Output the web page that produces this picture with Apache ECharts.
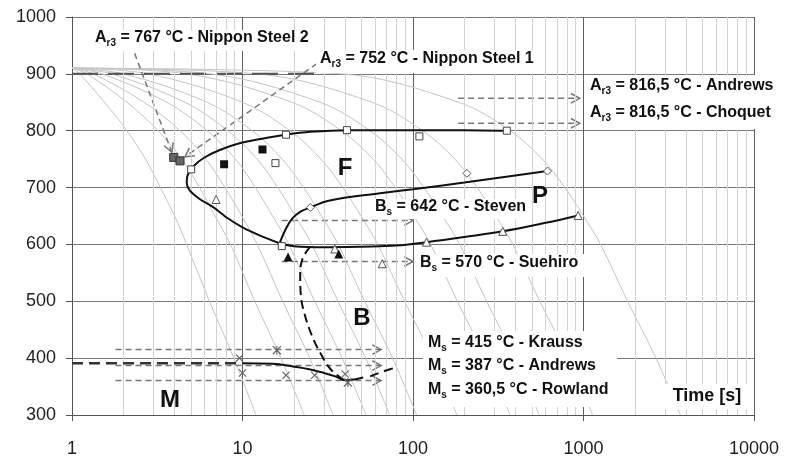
<!DOCTYPE html>
<html>
<head>
<meta charset="utf-8">
<script src="https://cdn.jsdelivr.net/npm/echarts@6/dist/echarts.min.js"></script>
<style>
  html, body { margin: 0; padding: 0; background: #fff; }
  #chart { width: 789px; height: 458px; }
</style>
</head>
<body>
<div id="chart"></div>
<script>
// cooling curves [time s, temp °C]
const cool12 = [[1,910],[1.11,900],[1.55,850],[2.1,800],[2.7,750],[3.3,700],[4.0,650],[4.7,600],[6.4,500],[8.9,400],[12,300]];
const cool23 = [[1,910],[1.22,900],[2.1,850],[3.2,800],[4.4,750],[5.6,700],[6.9,650],[8.5,600],[11.8,500],[16.8,400],[23,300]];
const cool34 = [[1,910],[1.33,900],[2.65,850],[4.3,800],[6.1,750],[7.9,700],[9.9,650],[12.2,600],[17.2,500],[24.8,400],[34,300]];
const cool53 = [[1,910],[1.5,900],[3.6,850],[6.2,800],[9.1,750],[11.9,700],[15,650],[18.7,600],[26.5,500],[38.4,400],[53,300]];
const cool73 = [[1,910],[1.7,900],[4.6,850],[8.2,800],[12.2,750],[16.1,700],[20.4,650],[25.5,600],[36.3,500],[52.8,400],[73,300]];
const cool105 = [[1,910],[2.0,900],[6.2,850],[11.4,800],[17.1,750],[22.8,700],[29.1,650],[36.4,600],[52,500],[75.9,400],[105,300]];
const cool181 = [[1,910],[2.8,900],[10,850],[19,800],[28.9,750],[38.8,700],[49.6,650],[62.2,600],[89.2,500],[130.6,400],[181,300]];
const cool371 = [[1,910],[4.7,900],[19.5,850],[38,800],[58.4,750],[78.7,700],[101,650],[127,600],[182,500],[267,400],[371,300]];
const cool550 = [[1,910],[6.5,900],[28.5,850],[56,800],[86,750],[116,700],[149,650],[188,600],[270,500],[396,400],[550,300]];
const cool1130 = [[1,910],[12.3,900],[57.5,850],[114,800],[176,750],[238,700],[306,650],[385,600],[554,500],[814,400],[1130,300]];
const cool3700 = [[1,910],[38,900],[186,850],[371,800],[574,750],[778,700],[1000,650],[1259,600],[1813,500],[2664,400],[3700,300]];
const coolingCurves = [cool12, cool23, cool34, cool53, cool73, cool105, cool181, cool371, cool550, cool1130, cool3700];

// transformation lines
const ferriteStart = [[360,800],[200,801],[100,801],[41,801],[25,798],[18,793],[13,786],[9.6,778],[7.35,766],[5.92,752],[5.18,738],[4.77,722],[4.71,708],[4.9,695],[5.6,680],[6.7,666],[8.2,646],[10,630],[12.6,616],[16.5,602]];
const pearliteStart = [[16.5,602],[17.8,625],[19.5,645],[22,658],[25,665],[32,677],[64,690],[100,697],[200,709],[311,717],[615,729]];
const pearliteEnd = [[16.5,602],[20,597],[30,595],[50,596],[80,598],[120,604],[200,613],[336,623],[600,638],[930,651]];
const bainiteEnd = [[25,596],[22.5,575],[21.8,545],[22,510],[23,480],[25.5,440],[28.5,410],[33,380],[40,360]];
const msSolid = [[10,391],[15,390],[20,385],[25,380],[30,374],[35,368],[40.5,361],[46,363],[51,366]];
const msLeft = [[1,391],[10,391]];
const msRight = [[56,368],[66,376],[82,385]];
const austenLine = [[1,900],[30,900]];

// markers
const openSquares = [[5,732],[15.6,743],[18,793],[41,801],[109,790],[355,800],[17,597]];
const filledSquares = [[7.8,741],[13.1,767]];
const nipponSquares = [[3.95,753],[4.3,747]];
const openTriangles = [[7,679],[66,566],[120,604],[336,623],[930,651],[34.8,592]];
const filledTriangles = [[18.5,578],[36.7,583]];
const openDiamonds = [[25,665],[207,725],[615,729]];
const crossMarks = [[9.6,400],[10,374],[18,370],[26.5,370],[40,372]];
const starMarks = [[15.9,414],[41.5,357]];

// reference arrows [t1, T1, t2, T2]
const refArrows = [
  [1.8,415,65,415],
  [1.8,387,65,387],
  [1.8,360.5,65,360.5],
  [17,642,100,642],
  [17,570,100,570],
  [184,857,950,857],
  [184,813,950,813],
  [2.33,936,3.85,762],
  [27.3,918,4.6,754]
];

const minorTimes = [];
[1, 10, 100, 1000].forEach(d => { for (let k = 2; k <= 9; k++) minorTimes.push(k * d); });

const FONT = "'Liberation Sans', Arial, sans-serif";
const chart = echarts.init(document.getElementById('chart'));

const crossPath = 'path://M1,0L5,4L9,0L10,1L6,5L10,9L9,10L5,6L1,10L0,9L4,5L0,1Z';
const starPath = 'path://M1,0L5,4L9,0L10,1L6,5L10,9L9,10L5,6L1,10L0,9L4,5L0,1ZM4.4,0L5.6,0L5.6,10L4.4,10Z';

function markerSeries(data, symbol, size, fill, stroke) {
  return {
    type: 'scatter', data: data, symbol: symbol, symbolSize: size, z: 6, silent: true,
    itemStyle: { color: fill, borderColor: stroke, borderWidth: stroke ? 1 : 0, opacity: 1 }
  };
}

function lineSeries(data, color, width, dash, smooth, z) {
  return {
    type: 'line', data: data, showSymbol: false, symbol: 'none', smooth: smooth, z: z, silent: true,
    lineStyle: { color: color, width: width, type: dash || 'solid' }
  };
}

const series = [];
series.push({
  type: 'line', data: [], silent: true, z: 1,
  markLine: {
    silent: true, symbol: 'none', label: { show: false },
    lineStyle: { color: '#d2d2d2', width: 1, type: 'solid' },
    data: minorTimes.map(t => ({ xAxis: t }))
  }
});
coolingCurves.forEach(c => series.push(lineSeries(c, '#c4c4c4', 1, null, 0.35, 2)));
series.push(lineSeries(austenLine, '#555', 2, [26, 10], false, 3));
series.push({
  type: 'custom', data: refArrows, z: 4, silent: true,
  encode: { x: [0, 2], y: [1, 3] },
  renderItem: function (params, api) {
    const p1 = api.coord([api.value(0), api.value(1)]);
    const p2 = api.coord([api.value(2), api.value(3)]);
    const a = Math.atan2(p2[1] - p1[1], p2[0] - p1[0]);
    const L = 10, s = 0.5;
    const h1 = [p2[0] - L * Math.cos(a - s), p2[1] - L * Math.sin(a - s)];
    const h2 = [p2[0] - L * Math.cos(a + s), p2[1] - L * Math.sin(a + s)];
    return {
      type: 'group',
      children: [
        { type: 'line', shape: { x1: p1[0], y1: p1[1], x2: p2[0], y2: p2[1] },
          style: { stroke: '#777', lineWidth: 1.5, lineDash: [6, 4] } },
        { type: 'polyline', shape: { points: [h1, p2, h2] },
          style: { stroke: '#777', lineWidth: 1.5, fill: null } }
      ]
    };
  }
});
series.push(lineSeries(ferriteStart, '#111', 2, null, 0.3, 5));
series.push(lineSeries(pearliteStart, '#111', 2, null, 0.4, 5));
series.push(lineSeries(pearliteEnd, '#111', 2, null, 0.4, 5));
series.push(lineSeries(bainiteEnd, '#111', 2, [9, 5], 0.4, 5));
series.push(lineSeries(msSolid, '#111', 2, null, 0.4, 5));
series.push(lineSeries(msLeft, '#333', 2.5, [11, 6], false, 5));
series.push(lineSeries(msRight, '#111', 2, [9, 6], 0.3, 5));

series.push(markerSeries(openSquares, 'rect', 7, '#fff', '#444'));
series.push(markerSeries(filledSquares, 'rect', 8, '#111', null));
series.push(markerSeries(nipponSquares, 'rect', 8, '#666', '#333'));
series.push(markerSeries(openTriangles, 'triangle', 8, '#fff', '#555'));
series.push(markerSeries(filledTriangles, 'triangle', 9, '#111', null));
series.push(markerSeries(openDiamonds, 'diamond', 8, '#fff', '#555'));
series.push(markerSeries(crossMarks, crossPath, 8, '#666', null));
series.push(markerSeries(starMarks, starPath, 9, '#666', null));

const rich = {
  a: { fontSize: 16, fontWeight: 'bold', fontFamily: FONT, fill: '#111', lineHeight: 20 },
  s: { fontSize: 10, fontWeight: 'bold', fontFamily: FONT, fill: '#111', lineHeight: 20, verticalAlign: 'bottom' }
};
function label(x, y, head, sub, rest) {
  return {
    type: 'text', left: x, top: y - 10, z: 101, silent: true,
    style: { text: '{a|' + head + '}{s|' + sub + '}{a|' + rest + '}', rich: rich }
  };
}
function box(x1, y1, x2, y2) {
  return { type: 'rect', shape: { x: x1, y: y1, width: x2 - x1, height: y2 - y1 }, z: 100, silent: true,
    style: { fill: '#fff' } };
}
function letter(x, y, t, size) {
  return { type: 'text', x: x, y: y, z: 101, silent: true,
    style: { text: t, font: 'bold ' + size + 'px ' + FONT, fill: '#111', align: 'center', verticalAlign: 'middle' } };
}

const graphics = [
  box(92, 30, 316, 51),
  box(316, 50, 543, 73),
  box(584, 75, 789, 129),
  box(372, 199, 530, 219),
  box(416, 254, 584, 277),
  box(423, 331, 617, 407),
  box(662, 384, 752, 409),
  label(95, 40, 'A', 'r3', ' = 767 °C - Nippon Steel 2'),
  label(320, 61, 'A', 'r3', ' = 752 °C - Nippon Steel 1'),
  label(590, 88, 'A', 'r3', ' = 816,5 °C - Andrews'),
  label(590, 115, 'A', 'r3', ' = 816,5 °C - Choquet'),
  label(375, 209, 'B', 's', ' = 642 °C - Steven'),
  label(420, 265, 'B', 's', ' = 570 °C - Suehiro'),
  label(428, 345, 'M', 's', ' = 415 °C - Krauss'),
  label(428, 368, 'M', 's', ' = 387 °C - Andrews'),
  label(428, 392, 'M', 's', ' = 360,5 °C - Rowland'),
  letter(707, 396, 'Time [s]', 18),
  letter(345, 168, 'F', 24),
  letter(540, 196, 'P', 24),
  letter(362, 318, 'B', 24),
  letter(170, 400, 'M', 24)
];

chart.setOption({
  animation: false,
  backgroundColor: '#fff',
  grid: { left: 72, right: 35, top: 17, bottom: 43, containLabel: false },
  xAxis: {
    type: 'log', logBase: 10, min: 1, max: 10000,
    axisLine: { show: true, lineStyle: { color: '#555', width: 1 } },
    axisTick: { show: true, length: 6, lineStyle: { color: '#555' } },
    axisLabel: { fontSize: 18, color: '#222', fontFamily: FONT, margin: 25, formatter: v => String(Math.round(v)) },
    splitLine: { show: true, lineStyle: { color: '#606060', width: 1 } },
    minorTick: { show: false }, minorSplitLine: { show: false }
  },
  yAxis: {
    type: 'value', min: 300, max: 1000, interval: 100,
    axisLine: { show: true, lineStyle: { color: '#555', width: 1 } },
    axisTick: { show: true, length: 6, lineStyle: { color: '#555' } },
    axisLabel: { fontSize: 18, color: '#222', fontFamily: FONT, margin: 16, formatter: v => String(v) },
    splitLine: { show: true, lineStyle: { color: '#777', width: 1 } }
  },
  graphic: graphics,
  series: series
});
</script>
</body>
</html>
